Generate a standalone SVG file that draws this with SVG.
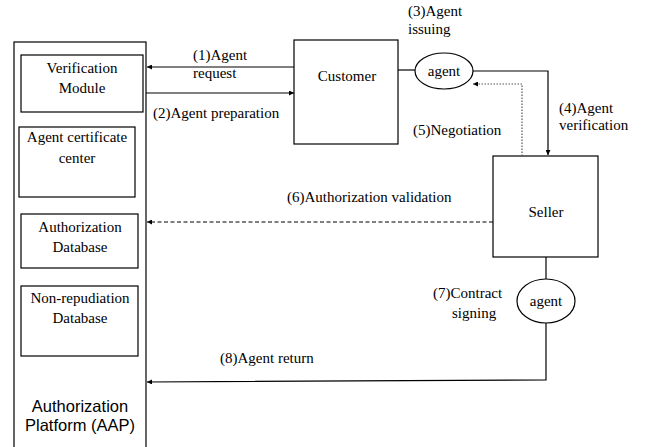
<svg xmlns="http://www.w3.org/2000/svg" width="648" height="447" viewBox="0 0 648 447">
<style>
.box{fill:#fff;stroke:#000;stroke-width:1.2}
.t{font-family:"Liberation Serif","Times New Roman",serif;font-size:15px;fill:#000}
.c{text-anchor:middle}
.s{font-family:"Liberation Sans",Arial,sans-serif;font-size:16.5px;fill:#000;text-anchor:middle}
.ln{fill:none;stroke:#000;stroke-width:1.2}
.dash{stroke-dasharray:4,2.5}
.dot{stroke-dasharray:1.5,1.5;stroke:#555}
</style>
<defs>
<marker id="ah" viewBox="0 0 6 6" refX="6" refY="3" markerWidth="5" markerHeight="5" orient="auto" markerUnits="userSpaceOnUse">
<path d="M0,0 L6,3 L0,6 z" fill="#000"/>
</marker>
</defs>
<g id="aap">
<rect class="box" x="14" y="42" width="132" height="420"/>
<text class="s" x="80" y="412">Authorization</text>
<text class="s" x="80" y="431">Platform (AAP)</text>
</g>
<g id="verification-module">
<rect class="box" x="21" y="55" width="122" height="57"/>
<text class="t c" x="82" y="73">Verification</text>
<text class="t c" x="82" y="93">Module</text>
</g>
<g id="agent-certificate-center">
<rect class="box" x="19" y="127" width="116" height="70"/>
<text class="t c" x="77" y="142">Agent certificate</text>
<text class="t c" x="77" y="163">center</text>
</g>
<g id="authorization-database">
<rect class="box" x="21" y="214" width="117" height="54"/>
<text class="t c" x="80" y="232">Authorization</text>
<text class="t c" x="80" y="252">Database</text>
</g>
<g id="non-repudiation-database">
<rect class="box" x="21" y="286" width="117" height="70"/>
<text class="t c" x="80" y="303">Non-repudiation</text>
<text class="t c" x="80" y="323">Database</text>
</g>
<g id="customer">
<rect class="box" x="294" y="40" width="104" height="104"/>
<text class="t c" x="347" y="81">Customer</text>
</g>
<g id="agent-top">
<ellipse class="box" cx="444" cy="71" rx="29" ry="18"/>
<text class="t c" x="444" y="76">agent</text>
</g>
<g id="seller">
<rect class="box" x="493" y="156" width="105" height="101"/>
<text class="t c" x="546" y="217">Seller</text>
</g>
<g id="agent-bottom">
<ellipse class="box" cx="546" cy="301" rx="29" ry="22"/>
<text class="t c" x="546" y="306">agent</text>
</g>
<g id="connectors">
<line class="ln" x1="294" y1="67" x2="147" y2="67" marker-end="url(#ah)"/>
<line class="ln" x1="146" y1="93" x2="294" y2="93" marker-end="url(#ah)"/>
<line class="ln" x1="398" y1="70" x2="415" y2="70"/>
<polyline class="ln" points="473,71 548,71 548,155" marker-end="url(#ah)"/>
<polyline class="ln dot" points="522,156 522,84 473,84" marker-end="url(#ah)"/>
<line class="ln dash" x1="493" y1="222" x2="147" y2="222" marker-end="url(#ah)"/>
<line class="ln" x1="546" y1="257" x2="546" y2="279"/>
<polyline class="ln" points="546,323 546,380 147,382" marker-end="url(#ah)"/>
</g>
<g id="labels">
<text class="t" x="193" y="60">(1)Agent</text>
<text class="t" x="193" y="78">request</text>
<text class="t" x="153" y="118">(2)Agent preparation</text>
<text class="t" x="408" y="16">(3)Agent</text>
<text class="t" x="408" y="34">issuing</text>
<text class="t" x="559" y="113">(4)Agent</text>
<text class="t" x="559" y="130">verification</text>
<text class="t" x="413" y="135">(5)Negotiation</text>
<text class="t" x="287" y="202">(6)Authorization validation</text>
<text class="t" x="433" y="298">(7)Contract</text>
<text class="t" x="452" y="318">signing</text>
<text class="t" x="220" y="363">(8)Agent return</text>
</g>
</svg>
